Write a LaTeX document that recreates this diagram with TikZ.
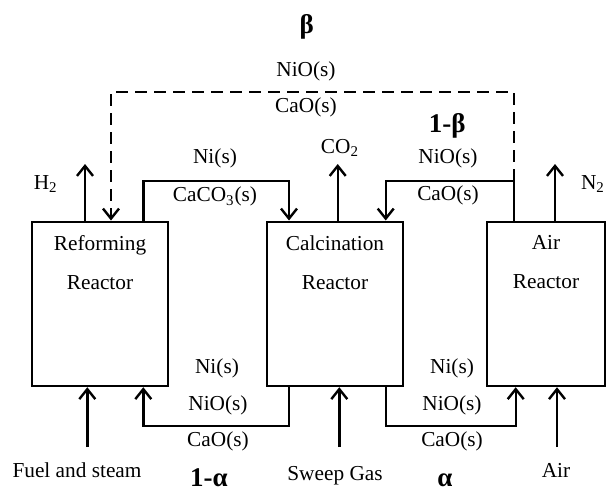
\documentclass[tikz,border=0pt]{standalone}
\usepackage{fontspec}
\setmainfont{Liberation Serif}
\usetikzlibrary{arrows.meta, positioning}

\begin{document}
\begin{tikzpicture}[x=0.5pt, y=-0.5pt,
    reactor/.style={rectangle, draw, line width=1.2pt, minimum width=68pt, minimum height=82.15pt, inner sep=0pt},
    rtext/.style={align=center, inner sep=0pt, font=\fontsize{10.65}{19.5}\selectfont},
    lbl/.style={inner sep=0pt, font=\fontsize{10.65}{12.8}\selectfont},
    frac/.style={inner sep=0pt, font=\fontsize{13.5}{16}\selectfont\bfseries},
    arr/.style={-{Straight Barb[length=5pt, width=8pt]}, line width=1.2pt},
    flow/.style={line width=1.2pt}
]
\useasboundingbox (0,0) rectangle (608,492);

% reactors
\node[reactor] (rf) at (100,303.85) {};
\node[reactor] (cal) at (335,303.85) {};
\node[reactor, minimum width=59pt] (air) at (546,303.85) {};
\node[rtext] (rftxt) at (100,262.5) {Reforming\\Reactor};
\node[rtext] (caltxt) at (335,262.5) {Calcination\\Reactor};
\node[rtext] (airtxt) at (546,262.5) {Air\\Reactor};

% gas streams
\coordinate (htop) at (85,164);
\coordinate (ctop) at (337.7,164);
\coordinate (ntop) at (555,164);
\coordinate (fuelin) at (87.3,447);
\coordinate (sweepin) at (339.3,447);
\coordinate (airin) at (557,447);
\draw[arr] (rf.north -| htop) -- (htop);
\draw[arr] (cal.north -| ctop) -- (ctop);
\draw[arr] (air.north -| ntop) -- (ntop);
\draw[arr] (fuelin) -- (rf.south -| fuelin);
\draw[arr] (sweepin) -- (cal.south -| sweepin);
\draw[arr] (airin) -- (air.south -| airin);

\node[lbl] (h2) at (45.7,184) {H\textsubscript{2}};
\node[lbl] (co2) at (340,148) {CO\textsubscript{2}};
\node[lbl] (n2) at (593,184) {N\textsubscript{2}};
\node[lbl, anchor=base] (fuel) at (77,477.5) {Fuel and steam};
\node[lbl, anchor=base] (sweep) at (335,480.5) {Sweep Gas};
\node[lbl, anchor=base] (airgas) at (556,477.5) {Air};

% solid loops
\coordinate (rfup) at (143.3,180.7);
\coordinate (calin) at (289,180.7);
\coordinate (airup) at (514,180.7);
\coordinate (calret) at (385.7,180.7);
\draw[arr] (rf.north -| rfup) -- (rfup) -- (calin) -- (cal.north -| calin);
\draw[arr] (air.north -| airup) -- (airup) -- (calret) -- (cal.north -| calret);

\coordinate (caldn) at (289,426);
\coordinate (rfret) at (143.3,426);
\coordinate (caldn2) at (385.7,426);
\coordinate (airret) at (515.7,426);
\draw[arr] (cal.south -| caldn) -- (caldn) -- (rfret) -- (rf.south -| rfret);
\draw[arr] (cal.south -| caldn2) -- (caldn2) -- (airret) -- (air.south -| airret);

% bypass
\coordinate (bpr) at (514,92);
\coordinate (bpl) at (111,92);
\draw[arr, dash pattern=on 6pt off 3.5pt] (airup) -- (bpr) -- (bpl) -- (rf.north -| bpl);

% stream labels
\node[frac] (beta) at (306.7,27) {β};
\node[lbl] (bpnio) at (306,71.7) {NiO(s)};
\node[lbl] (bpcao) at (306,107.3) {CaO(s)};
\node[frac] (omb) at (447.3,126) {1-β};
\node[lbl] (tni) at (215,158) {Ni(s)};
\node[lbl] (tcaco) at (215,196.7) {CaCO\textsubscript{3}(s)};
\node[lbl] (tnio) at (448,158) {NiO(s)};
\node[lbl] (tcao) at (448,195) {CaO(s)};
\node[lbl] (lni) at (217,368) {Ni(s)};
\node[lbl] (lnio) at (218,405) {NiO(s)};
\node[lbl] (lcao) at (218,441.7) {CaO(s)};
\node[lbl] (rni) at (452,368) {Ni(s)};
\node[lbl] (rnio) at (452,405) {NiO(s)};
\node[lbl] (rcao) at (452,441.7) {CaO(s)};
\node[frac, anchor=base] (oma) at (209,486) {1-α};
\node[frac, anchor=base] (alpha) at (445,486) {α};
\end{tikzpicture}
\end{document}
